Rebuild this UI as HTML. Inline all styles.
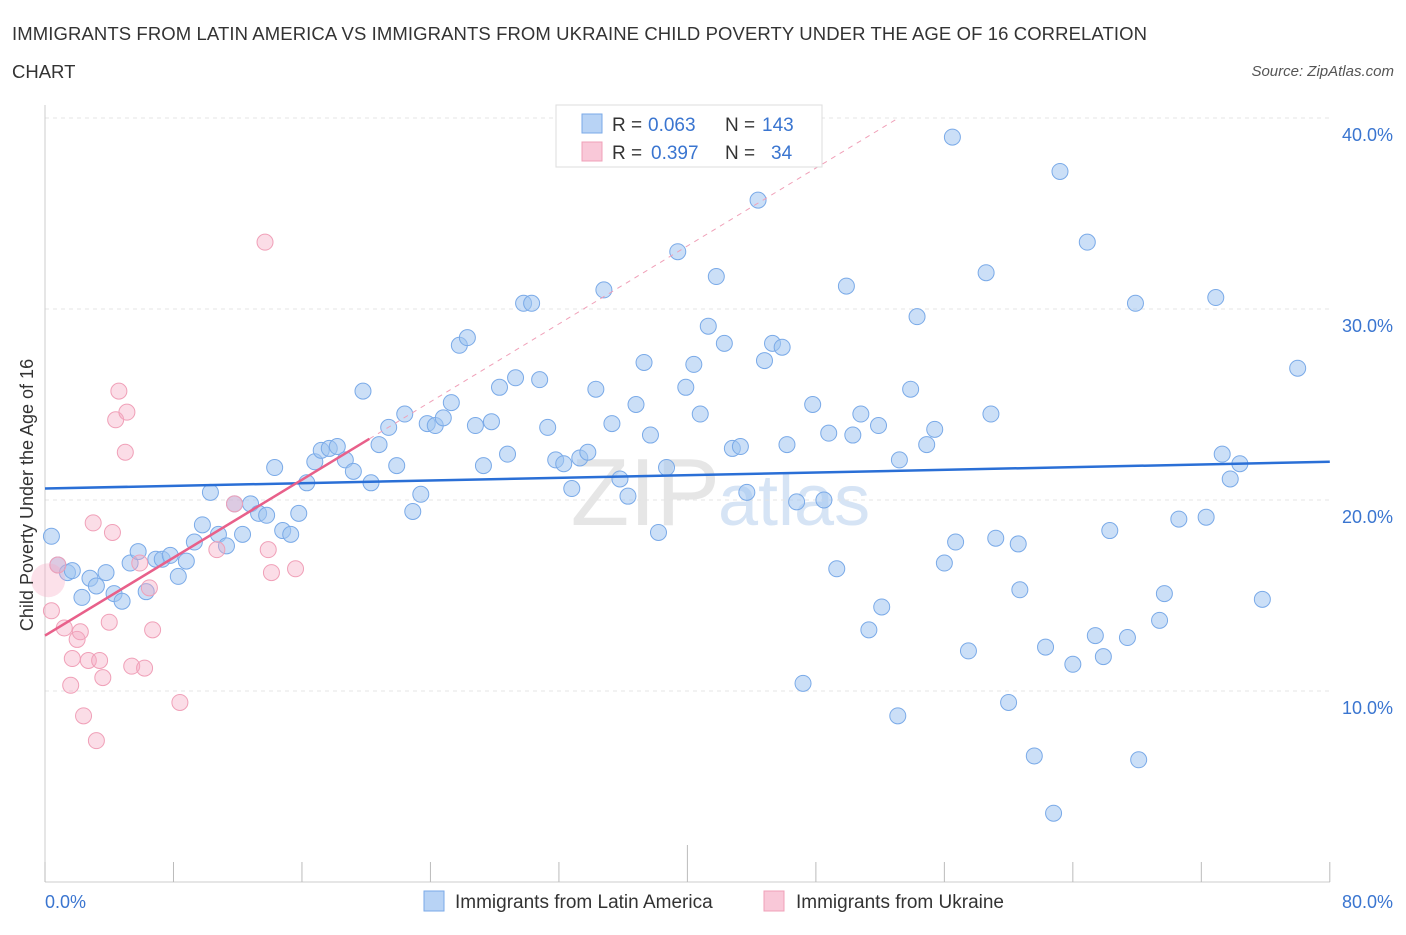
<!DOCTYPE html>
<html><head><meta charset="utf-8"><style>
body{margin:0;background:#fff;font-family:"Liberation Sans",sans-serif}
svg text{font-family:"Liberation Sans",sans-serif}
</style></head><body>
<svg id="c" width="1406" height="930">
<text x="12" y="40" font-size="18.5" fill="#333" letter-spacing="0.1">IMMIGRANTS FROM LATIN AMERICA VS IMMIGRANTS FROM UKRAINE CHILD POVERTY UNDER THE AGE OF 16 CORRELATION</text>
<text x="12" y="78" font-size="18.5" fill="#333">CHART</text>
<text x="1394" y="76" font-size="15" fill="#555" font-style="italic" text-anchor="end">Source: ZipAtlas.com</text>
<text x="720" y="525" font-size="96" fill="#e6e6e6" text-anchor="end" font-family="Liberation Serif">ZIP</text>
<text x="718" y="525" font-size="72" fill="#d6e4f5">atlas</text>
<g id="grid"></g><g id="marks"></g>
<text x="33" y="495" font-size="18" fill="#333" transform="rotate(-90 33 495)" text-anchor="middle">Child Poverty Under the Age of 16</text>
<text x="45" y="908" font-size="18" fill="#3a75d0">0.0%</text>
<text x="1393" y="908" font-size="18" fill="#3a75d0" text-anchor="end">80.0%</text>
<g>
<rect x="556" y="105" width="266" height="62" fill="#fff" stroke="#ddd"/>
<rect x="582" y="114" width="20" height="19" fill="#b8d3f5" stroke="#7aaae8"/>
<rect x="582" y="142" width="20" height="19" fill="#f9c8d8" stroke="#f0a0b8"/>
<text y="131" font-size="19" fill="#333"><tspan x="612">R =</tspan><tspan x="648" fill="#3a75d0">0.063</tspan><tspan x="725">N =</tspan><tspan x="762" fill="#3a75d0">143</tspan></text>
<text y="159" font-size="19" fill="#333"><tspan x="612">R =</tspan><tspan x="651" fill="#3a75d0">0.397</tspan><tspan x="725">N =</tspan><tspan x="771" fill="#3a75d0">34</tspan></text>
</g>
<g>
<rect x="424" y="891" width="20" height="20" fill="#b8d3f5" stroke="#7aaae8"/>
<text x="455" y="908" font-size="19" fill="#333">Immigrants from Latin America</text>
<rect x="764" y="891" width="20" height="20" fill="#f9c8d8" stroke="#f0a0b8"/>
<text x="796" y="908" font-size="19" fill="#333">Immigrants from Ukraine</text>
</g>
</svg>
<script>
const blueX=[0.4,0.8,1.4,1.7,2.3,2.8,3.2,3.8,4.3,4.8,5.3,5.8,6.3,6.9,7.3,7.8,8.3,8.8,9.3,9.8,10.3,10.8,11.3,11.8,12.3,12.8,13.3,13.8,14.3,14.8,15.3,15.8,16.3,16.8,17.2,17.7,18.2,18.7,19.2,19.8,20.3,20.8,21.4,21.9,22.4,22.9,23.4,23.8,24.3,24.8,25.3,25.8,26.3,26.8,27.3,27.8,28.3,28.8,29.3,29.8,30.3,30.8,31.3,31.8,32.3,32.8,33.3,33.8,34.3,34.8,35.3,35.8,36.3,36.8,37.3,37.7,38.2,38.7,39.4,39.9,40.4,40.8,41.3,41.8,42.3,42.8,43.3,43.7,44.4,44.8,45.3,45.9,46.2,46.8,47.2,47.8,48.5,48.8,49.3,49.9,50.3,50.8,51.3,51.9,52.1,53.1,53.2,53.9,54.3,54.9,55.4,56.0,56.5,56.7,57.5,58.6,58.9,59.2,60.0,60.6,60.7,61.6,62.3,62.8,63.2,64.0,64.9,65.4,65.9,66.3,67.4,67.9,68.1,69.4,69.7,70.6,72.3,72.9,73.3,73.8,74.4,75.8,78.0];
const blueY=[18.1,16.6,16.2,16.3,14.9,15.9,15.5,16.2,15.1,14.7,16.7,17.3,15.2,16.9,16.9,17.1,16.0,16.8,17.8,18.7,20.4,18.2,17.6,19.8,18.2,19.8,19.3,19.2,21.7,18.4,18.2,19.3,20.9,22.0,22.6,22.7,22.8,22.1,21.5,25.7,20.9,22.9,23.8,21.8,24.5,19.4,20.3,24.0,23.9,24.3,25.1,28.1,28.5,23.9,21.8,24.1,25.9,22.4,26.4,30.3,30.3,26.3,23.8,22.1,21.9,20.6,22.2,22.5,25.8,31.0,24.0,21.1,20.2,25.0,27.2,23.4,18.3,21.7,33.0,25.9,27.1,24.5,29.1,31.7,28.2,22.7,22.8,20.4,35.7,27.3,28.2,28.0,22.9,19.9,10.4,25.0,20.0,23.5,16.4,31.2,23.4,24.5,13.2,23.9,14.4,8.7,22.1,25.8,29.6,22.9,23.7,16.7,39.0,17.8,12.1,31.9,24.5,18.0,9.4,17.7,15.3,6.6,12.3,3.6,37.2,11.4,33.5,12.9,11.8,18.4,12.8,30.3,6.4,13.7,15.1,19.0,19.1,30.6,22.4,21.1,21.9,14.8,26.9];
const pinkX=[0.4,0.8,1.2,1.6,1.7,2.0,2.2,2.4,2.7,3.0,3.2,3.4,3.6,4.0,4.2,4.4,4.6,5.1,5.0,5.4,5.9,6.2,6.5,6.7,8.4,10.7,11.8,13.7,13.9,14.1,15.6];
const pinkY=[14.2,16.6,13.3,10.3,11.7,12.7,13.1,8.7,11.6,18.8,7.4,11.6,10.7,13.6,18.3,24.2,25.7,24.6,22.5,11.3,16.7,11.2,15.4,13.2,9.4,17.4,19.8,33.5,17.4,16.2,16.4];
const yTicks=[10,20,30,40];
const blueTrend=[20.6,22.0];
const pinkTrend=[12.9,0.51];
const NS='http://www.w3.org/2000/svg';
const xs=v=>45+v*16.06, ys=v=>882-v*19.1;
function mk(p,t,a){const e=document.createElementNS(NS,t);for(const k in a)e.setAttribute(k,a[k]);p.appendChild(e);return e;}
const g=document.getElementById('grid'), m=document.getElementById('marks');
for(const t of yTicks){
 const l=mk(g,'line',{x1:45,x2:1330,y1:ys(t),y2:ys(t),stroke:'#e4e4e4','stroke-dasharray':'4,4'});
 
 
 const tx=mk(g,'text',{x:1393,y:ys(t)+23,'font-size':18,fill:'#3a75d0','text-anchor':'end'});tx.textContent=t.toFixed(1)+'%';
 
 
}
mk(g,'line',{x1:45,x2:45,y1:105,y2:882,stroke:'#ccc'});
mk(g,'line',{x1:45,x2:1330,y1:882,y2:882,stroke:'#ccc'});
for(let i=0;i<=10;i++){const x=xs(i*8);const t=mk(g,'line',{x1:x,x2:x,y1:i==5?845:862,y2:882,stroke:'#bbb'});
 
 }
for(let i=0;i<blueX.length;i++){const c=mk(m,'circle',{cx:xs(blueX[i]),cy:ys(blueY[i]),r:8,fill:'rgba(160,196,240,0.55)',stroke:'#7aaae8','stroke-width':1});
 
 }
const big=mk(m,'circle',{cx:xs(0.2),cy:ys(15.8),r:17,fill:'rgba(245,170,195,0.35)',stroke:'none'});
for(let i=0;i<pinkX.length;i++){const c=mk(m,'circle',{cx:xs(pinkX[i]),cy:ys(pinkY[i]),r:8,fill:'rgba(245,170,195,0.4)',stroke:'#f0a0b8','stroke-width':1});
 
 }
const bl=mk(m,'line',{x1:xs(0),y1:ys(blueTrend[0]),x2:xs(80),y2:ys(blueTrend[1]),stroke:'#2a6fd6','stroke-width':2.5});


const pf=x=>pinkTrend[0]+pinkTrend[1]*x;
const pd=mk(m,'line',{x1:xs(20.2),y1:ys(pf(20.2)),x2:xs(53),y2:ys(pf(53)),stroke:'#f0a0b8','stroke-width':1,'stroke-dasharray':'5,5'});


const pl=mk(m,'line',{x1:xs(0),y1:ys(pf(0)),x2:xs(20.2),y2:ys(pf(20.2)),stroke:'#e8608a','stroke-width':2.5});


</script>
</body></html>
